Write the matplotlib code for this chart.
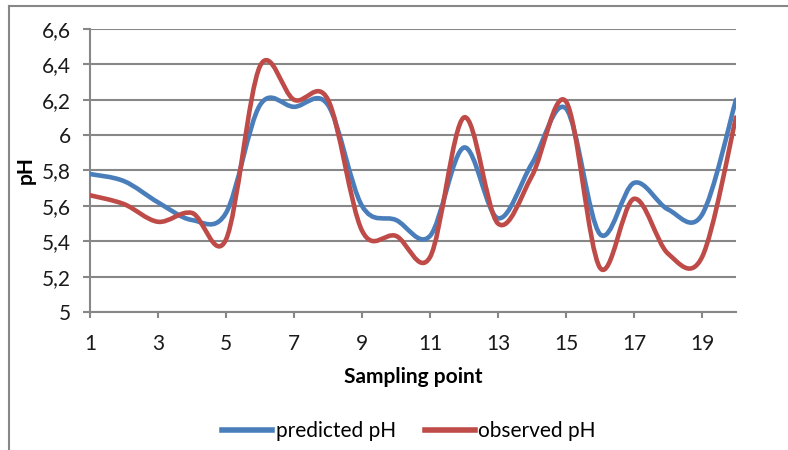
import numpy as np
import matplotlib
matplotlib.use("Agg")
import matplotlib.pyplot as plt
from matplotlib.path import Path
from matplotlib.patches import PathPatch
from matplotlib.lines import Line2D
from matplotlib.ticker import FuncFormatter, MultipleLocator

# data
sampling_point = list(range(1, 21))
predicted_ph = [5.78, 5.74, 5.62, 5.52, 5.56, 6.17, 6.16, 6.17, 5.60, 5.52,
                5.43, 5.93, 5.53, 5.84, 6.15, 5.44, 5.73, 5.58, 5.55, 6.20]
observed_ph = [5.66, 5.61, 5.51, 5.56, 5.41, 6.39, 6.20, 6.20, 5.46, 5.43,
               5.31, 6.10, 5.50, 5.77, 6.19, 5.25, 5.64, 5.33, 5.31, 6.10]

BLUE = "#4A7EBB"
RED = "#BE4B48"
GRID = "#878787"
FONT = "Lato"
FS = 15


def smooth_path(xs, ys):
    # Excel-style smoothed line: cubic bezier through each point
    pts = np.column_stack([xs, ys]).astype(float)
    n = len(pts)
    verts = [pts[0]]
    codes = [Path.MOVETO]
    for i in range(n - 1):
        p0 = pts[max(i - 1, 0)]
        p1 = pts[i]
        p2 = pts[i + 1]
        p3 = pts[min(i + 2, n - 1)]
        c1 = p1 + (p2 - p0) / 6.0
        c2 = p2 - (p3 - p1) / 6.0
        verts += [c1, c2, p2]
        codes += [Path.CURVE4] * 3
    return Path(verts, codes)


fig = plt.figure(figsize=(7.88, 4.5), dpi=100)
ax = fig.add_axes([90 / 788, 1 - 312 / 450, (736 - 90) / 788, (312 - 29) / 450])

for ys, col in [(predicted_ph, BLUE), (observed_ph, RED)]:
    patch = PathPatch(smooth_path(sampling_point, ys), facecolor="none",
                      edgecolor=col, lw=3.3, capstyle="round", joinstyle="round",
                      zorder=3)
    ax.add_patch(patch)

ax.set_xlim(1, 20)
ax.set_ylim(5, 6.6)
ax.set_xticks(sampling_point[::2])
ax.yaxis.set_major_locator(MultipleLocator(0.2))
ax.yaxis.set_major_formatter(FuncFormatter(lambda v, p: f"{v:.1f}".rstrip("0").rstrip(".").replace(".", ",")))

ax.grid(axis="y", color=GRID, lw=1.5)
ax.set_axisbelow(True)
for s in ["top", "right"]:
    ax.spines[s].set_visible(False)
for s in ["left", "bottom"]:
    ax.spines[s].set_color(GRID)
    ax.spines[s].set_linewidth(1.5)
ax.tick_params(axis="y", length=5, width=1.5, color=GRID, pad=9)
ax.tick_params(axis="x", length=4, width=1.5, color=GRID, pad=12)
for lab in ax.get_xticklabels() + ax.get_yticklabels():
    lab.set_fontfamily(FONT)
    lab.set_fontsize(FS)
    lab.set_color("#1a1a1a")

ax.set_xlabel("Sampling point", fontfamily=FONT, fontsize=FS, fontweight="bold", labelpad=9)
ax.set_ylabel("pH", fontfamily=FONT, fontsize=FS, fontweight="bold", labelpad=4)

handles = [Line2D([], [], color=BLUE, lw=4), Line2D([], [], color=RED, lw=4)]
fig.legend(handles, ["predicted pH", "observed pH"], loc="center",
           bbox_to_anchor=(409 / 788, 1 - 431 / 450), ncol=2, frameon=False,
           prop={"family": FONT, "size": FS}, handlelength=2.4,
           handletextpad=0.15, columnspacing=1.4)

# chart area border (left and top only visible)
fig.add_artist(Line2D([9 / 788, 9 / 788], [0, 1 - 6 / 450], color=GRID, lw=1.5,
                      transform=fig.transFigure))
fig.add_artist(Line2D([9 / 788, 1], [1 - 6 / 450, 1 - 6 / 450], color=GRID, lw=1.5,
                      transform=fig.transFigure))

fig.savefig("out.png", dpi=100)
